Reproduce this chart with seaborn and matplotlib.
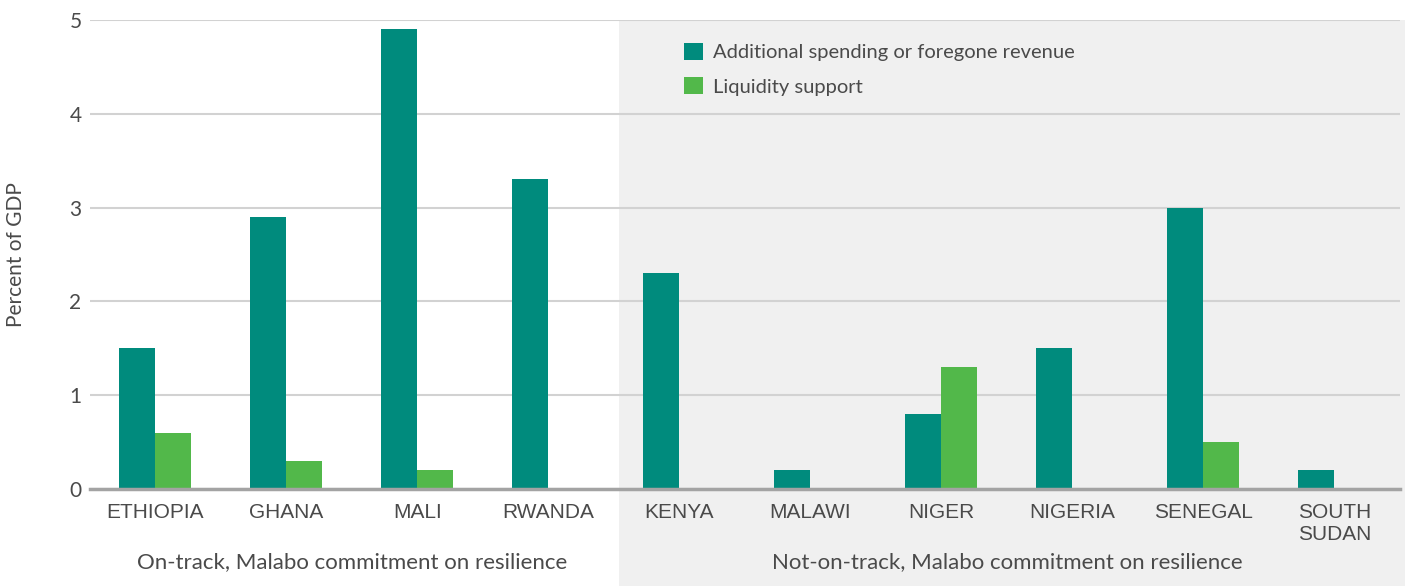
import numpy as np
import pandas as pd
import matplotlib.pyplot as plt
import seaborn as sns
from matplotlib.patches import Rectangle
import matplotlib.transforms as mtransforms

# Data
countries = ["ETHIOPIA", "GHANA", "MALI", "RWANDA", "KENYA", "MALAWI",
             "NIGER", "NIGERIA", "SENEGAL", "SOUTH\nSUDAN"]
spending = [1.5, 2.9, 4.9, 3.3, 2.3, 0.2, 0.8, 1.5, 3.0, 0.2]
liquidity = [0.6, 0.3, 0.2, 0.0, 0.0, 0.0, 1.3, 0.0, 0.5, 0.0]
series_names = ["Additional spending or foregone revenue", "Liquidity support"]
group_labels = ["On-track, Malabo commitment on resilience",
                "Not-on-track, Malabo commitment on resilience"]

df = pd.DataFrame({
    "country": countries * 2,
    "value": spending + liquidity,
    "series": [series_names[0]] * len(countries) + [series_names[1]] * len(countries),
})

sns.set_style("white")
plt.rcParams['font.family'] = ['Lato', 'DejaVu Sans']
txt = "#4a4a4a"

fig = plt.figure(figsize=(14.05, 5.86), dpi=100)
ax = fig.add_axes([0.064, 0.1655, 0.9324, 0.8004])

# shaded block for the not-on-track group, running down past the tick labels
trans = mtransforms.blended_transform_factory(ax.transData, ax.transAxes)
ax.add_patch(Rectangle((3.54, -0.3), 6.0, 1.3, transform=trans, facecolor="#f0f0f0",
                       edgecolor="none", clip_on=False, zorder=-1))

sns.barplot(data=df, x="country", y="value", hue="series", order=countries,
            palette=["#008b7d", "#52b84a"], width=0.55, saturation=1,
            linewidth=0, ax=ax)

ax.set_xlim(-0.5, 9.5)
ax.set_ylim(0, 5)
ax.set_yticks([0, 1, 2, 3, 4, 5])
ax.set_axisbelow(True)
ax.yaxis.grid(True, color="#d2d2d2", linewidth=1.5)
ax.xaxis.grid(False)
for s in ["top", "left", "right"]:
    ax.spines[s].set_visible(False)
ax.spines["bottom"].set_color("#a3a3a3")
ax.spines["bottom"].set_linewidth(2.5)
ax.tick_params(axis="both", length=0, labelsize=15, colors=txt)
ax.tick_params(axis="x", pad=10)
ax.tick_params(axis="y", pad=6)
for lab in ax.get_xticklabels():
    lab.set_family(["Liberation Sans", "DejaVu Sans"])
    lab.set_verticalalignment("top")
ax.set_xlabel("")
ax.set_ylabel("Percent of GDP", fontsize=15, color=txt)
ax.yaxis.set_label_coords(-0.049, 0.5)

# group labels under the country names
ax.text(1.5, -0.155, group_labels[0], transform=trans, ha="center", va="center",
        fontsize=16, color=txt)
ax.text(6.5, -0.155, group_labels[1], transform=trans, ha="center", va="center",
        fontsize=16, color=txt)

handles, labels = ax.get_legend_handles_labels()
ax.legend(handles, labels, loc="upper left", bbox_to_anchor=(0.44, 0.99),
          frameon=False, fontsize=14.5, handlelength=0.9, handleheight=0.9,
          handletextpad=0.5, labelspacing=0.8, labelcolor=txt)

fig.savefig("out.png", dpi=100)
